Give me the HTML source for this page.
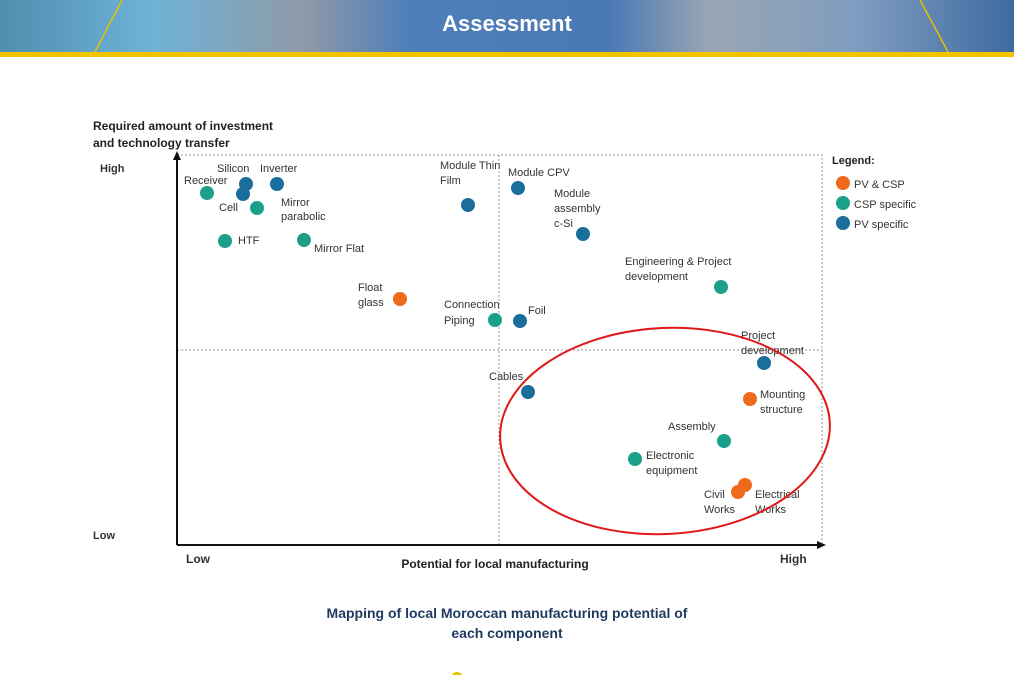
<!DOCTYPE html>
<html><head><meta charset="utf-8"><style>
body{margin:0;width:1014px;height:675px;overflow:hidden;background:#fff;font-family:"Liberation Sans",sans-serif;}
</style></head><body>
<svg width="1014" height="675" viewBox="0 0 1014 675" xmlns="http://www.w3.org/2000/svg" font-family="Liberation Sans, sans-serif">
<defs>
<linearGradient id="bg" x1="0" x2="1" y1="0" y2="0">
<stop offset="0" stop-color="#4f8fb0"/><stop offset="0.15" stop-color="#6fb2d6"/><stop offset="0.3" stop-color="#8f9aa8"/><stop offset="0.4" stop-color="#4f7fb8"/><stop offset="0.6" stop-color="#4a78b4"/><stop offset="0.7" stop-color="#9aa6b4"/><stop offset="0.85" stop-color="#7e9cc0"/><stop offset="1" stop-color="#3f6aa0"/>
</linearGradient>
</defs>
<rect x="0" y="0" width="1014" height="53" fill="url(#bg)"/>
<rect x="0" y="52" width="1014" height="5" fill="#f2c400"/>
<line x1="95" y1="52" x2="122" y2="0" stroke="#e8c000" stroke-width="1.5"/>
<line x1="948" y1="52" x2="920" y2="0" stroke="#e8c000" stroke-width="1.5"/>
<text x="507" y="31" text-anchor="middle" font-size="22" font-weight="bold" fill="#fff">Assessment</text>

<text x="93" y="130" font-size="12" font-weight="bold" fill="#222">Required amount of investment</text>
<text x="93" y="147" font-size="12" font-weight="bold" fill="#222">and technology transfer</text>
<text x="100" y="172" font-size="11" font-weight="bold" fill="#333">High</text>
<text x="93" y="539" font-size="11" font-weight="bold" fill="#333">Low</text>
<text x="186" y="563" font-size="12" font-weight="bold" fill="#333">Low</text>
<text x="780" y="563" font-size="12" font-weight="bold" fill="#333">High</text>
<text x="495" y="568" text-anchor="middle" font-size="12" font-weight="bold" fill="#222">Potential for local manufacturing</text>

<rect x="177" y="155" width="645" height="390" fill="none" stroke="#999" stroke-dasharray="2,2"/>
<line x1="499" y1="155" x2="499" y2="545" stroke="#999" stroke-dasharray="2,2"/>
<line x1="177" y1="350" x2="822" y2="350" stroke="#999" stroke-dasharray="2,2"/>
<line x1="177" y1="545" x2="177" y2="158" stroke="#111" stroke-width="2"/>
<polygon points="177,151 173,160 181,160" fill="#111"/>
<line x1="177" y1="545" x2="818" y2="545" stroke="#111" stroke-width="2"/>
<polygon points="826,545 817,541 817,549" fill="#111"/>

<text x="832" y="164" font-size="11" font-weight="bold" fill="#222">Legend:</text>
<circle cx="843" cy="183" r="7" fill="#f06a1c"/><text x="854" y="188" font-size="11" fill="#333">PV &amp; CSP</text>
<circle cx="843" cy="203" r="7" fill="#1aa08a"/><text x="854" y="208" font-size="11" fill="#333">CSP specific</text>
<circle cx="843" cy="223" r="7" fill="#1a6e9c"/><text x="854" y="228" font-size="11" fill="#333">PV specific</text>

<g font-size="11" fill="#333">
<circle cx="207" cy="193" r="7" fill="#1aa08a"/><text x="184" y="184">Receiver</text>
<circle cx="246" cy="184" r="7" fill="#1a6e9c"/><text x="217" y="172">Silicon</text>
<circle cx="243" cy="194" r="7" fill="#1a6e9c"/>
<circle cx="257" cy="208" r="7" fill="#1aa08a"/><text x="219" y="211">Cell</text>
<circle cx="277" cy="184" r="7" fill="#1a6e9c"/><text x="260" y="172">Inverter</text>
<text x="281" y="206">Mirror</text><text x="281" y="220">parabolic</text>
<circle cx="225" cy="241" r="7" fill="#1aa08a"/><text x="238" y="244">HTF</text>
<circle cx="304" cy="240" r="7" fill="#1aa08a"/><text x="314" y="252">Mirror Flat</text>
<circle cx="468" cy="205" r="7" fill="#1a6e9c"/><text x="440" y="169">Module Thin</text><text x="440" y="184">Film</text>
<circle cx="518" cy="188" r="7" fill="#1a6e9c"/><text x="508" y="176">Module CPV</text>
<circle cx="583" cy="234" r="7" fill="#1a6e9c"/><text x="554" y="197">Module</text><text x="554" y="212">assembly</text><text x="554" y="227">c-Si</text>
<circle cx="721" cy="287" r="7" fill="#1aa08a"/><text x="625" y="265">Engineering &amp; Project</text><text x="625" y="280">development</text>
<circle cx="400" cy="299" r="7" fill="#f06a1c"/><text x="358" y="291">Float</text><text x="358" y="306">glass</text>
<circle cx="495" cy="320" r="7" fill="#1aa08a"/><text x="444" y="308">Connection</text><text x="444" y="324">Piping</text>
<circle cx="520" cy="321" r="7" fill="#1a6e9c"/><text x="528" y="314">Foil</text>
<circle cx="764" cy="363" r="7" fill="#1a6e9c"/><text x="741" y="339">Project</text><text x="741" y="354">development</text>
<circle cx="528" cy="392" r="7" fill="#1a6e9c"/><text x="489" y="380">Cables</text>
<circle cx="750" cy="399" r="7" fill="#f06a1c"/><text x="760" y="398">Mounting</text><text x="760" y="413">structure</text>
<circle cx="724" cy="441" r="7" fill="#1aa08a"/><text x="668" y="430">Assembly</text>
<circle cx="635" cy="459" r="7" fill="#1aa08a"/><text x="646" y="459">Electronic</text><text x="646" y="474">equipment</text>
<circle cx="745" cy="485" r="7" fill="#f06a1c"/>
<circle cx="738" cy="492" r="7" fill="#f06a1c"/><text x="704" y="498">Civil</text><text x="704" y="513">Works</text>
<text x="755" y="498">Electrical</text><text x="755" y="513">Works</text>
</g>
<ellipse cx="665" cy="431" rx="165" ry="103" fill="none" stroke="#e01818" stroke-width="2" transform="rotate(-3 665 431)"/>

<text x="507" y="618" text-anchor="middle" font-size="14" font-weight="bold" fill="#1f3a5f">Mapping of local Moroccan manufacturing potential of</text>
<text x="507" y="638" text-anchor="middle" font-size="14" font-weight="bold" fill="#1f3a5f">each component</text>
<circle cx="457" cy="678" r="6" fill="#e8c000"/>
</svg>
</body></html>
